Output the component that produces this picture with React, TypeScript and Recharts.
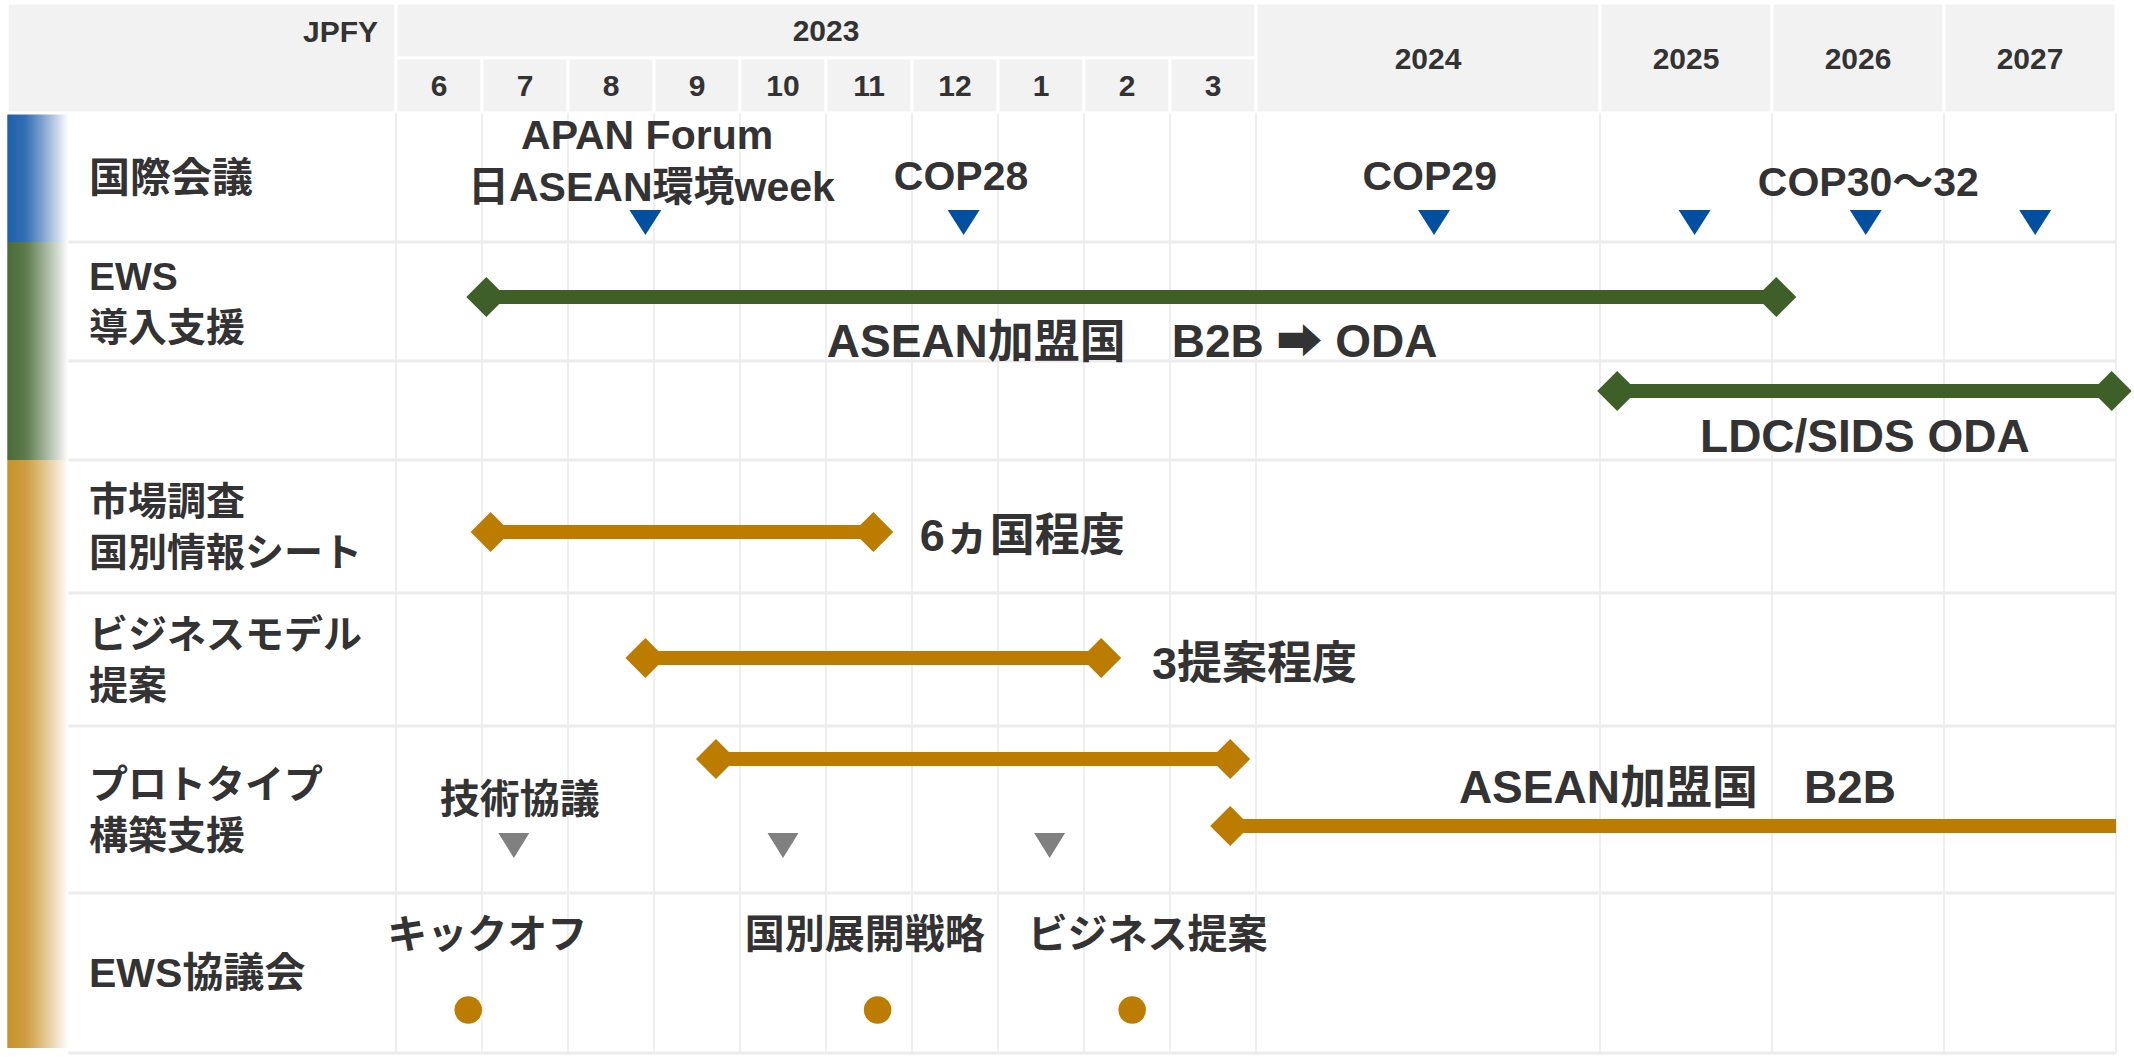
import React from "react";
import {
  ComposedChart,
  Line,
  Scatter,
  XAxis,
  YAxis,
  ReferenceArea,
  ReferenceLine,
} from "recharts";

const FONT = "'Liberation Sans', Arial, 'Noto Sans CJK JP', 'DejaVu Sans', sans-serif";
const INK = "#333333";
const HEADER_BG = "#f2f2f2";
const GRID = "#efefef";

const COLOURS: Record<string, string> = {
  intl: "#00509f",
  ews: "#3e5f27",
  biz: "#bc7c00",
  grey: "#808080",
};
const BAR_COLOURS: Record<string, string> = {
  intl: "#1d5fab",
  ews: "#4a6c38",
  biz: "#c8922a",
};

// x: months counted from June 2023 (JPFY2023 = 0..10), then fiscal years
const MONTH_LABELS = ["6", "7", "8", "9", "10", "11", "12", "1", "2", "3"];
const FIRST_YEAR = "2023";
const YEAR_LABELS = ["2024", "2025", "2026", "2027"];
const YEAR_EDGES = [10, 14, 16, 18, 20];

// y: lanes, header on top
const HEADER_SPLIT = 5.5;
const ROW_EDGES = [11, 23.9, 35.8, 45.7, 59, 72.3, 89, 105];
const ROW_LABELS = [
  ["国際会議"],
  ["EWS", "導入支援"],
  [],
  ["市場調査", "国別情報シート"],
  ["ビジネスモデル", "提案"],
  ["プロトタイプ", "構築支援"],
  ["EWS協議会"],
];
const ROW_GROUPS = ["intl", "ews", "ews", "biz", "biz", "biz", "biz"];

// left edge of the header / colour strip, and start of the label column (x units)
const LEFT_EDGE = -4.52;
const STRIP_END = -3.81;

// 国際会議 milestones
const INTL_MARKS = [
  { x: 2.9, y: 21.95 },
  { x: 6.6, y: 21.95 },
  { x: 12.07, y: 21.95 },
  { x: 15.1, y: 21.95 },
  { x: 17.09, y: 21.95 },
  { x: 19.06, y: 21.95 },
];
const INTL_LABELS = [
  { x: 2.92, y: 13.2, text: "APAN Forum" },
  { x: 2.97, y: 18.4, text: "日ASEAN環境week" },
  { x: 6.57, y: 17.3, text: "COP28" },
  { x: 12.02, y: 17.3, text: "COP29" },
  { x: 17.12, y: 17.9, text: "COP30～32" },
];

// Activity spans
const SPANS = [
  { group: "ews", lane: 29.4, start: 1.05, end: 16.05, open: false },
  { group: "ews", lane: 38.8, start: 14.2, end: 19.95, open: false },
  { group: "biz", lane: 52.9, start: 1.1, end: 5.55, open: false },
  { group: "biz", lane: 65.5, start: 2.9, end: 8.2, open: false },
  { group: "biz", lane: 75.6, start: 3.72, end: 9.7, open: false },
  { group: "biz", lane: 82.3, start: 9.7, end: 20, open: true },
];
const SPAN_LABELS = [
  { x: 8.56, y: 33.75, text: "ASEAN加盟国　B2B ➡ ODA" },
  { x: 17.08, y: 43.3, text: "LDC/SIDS ODA" },
  { x: 14.9, y: 78.4, text: "ASEAN加盟国　B2B" },
];
const NOTE_LABELS = [
  { x: 6.09, y: 53.2, text: "6ヵ国程度" },
  { x: 8.79, y: 66.0, text: "3提案程度" },
];

// プロトタイプ 技術協議 and EWS協議会 meetings
const TECH_MEETINGS = [
  { x: 1.37, y: 84.25 },
  { x: 4.5, y: 84.25 },
  { x: 7.6, y: 84.25 },
];
const COUNCIL_MEETINGS = [
  { x: 0.84, y: 100.7 },
  { x: 5.6, y: 100.7 },
  { x: 8.56, y: 100.7 },
];
const EVENT_LABELS = [
  { x: 1.44, y: 79.6, text: "技術協議" },
  { x: 1.06, y: 93.1, text: "キックオフ" },
  { x: 5.45, y: 93.1, text: "国別展開戦略" },
  { x: 8.74, y: 93.1, text: "ビジネス提案" },
];

const ROW_TICKS = ROW_LABELS.map((_, i) => (ROW_EDGES[i] + ROW_EDGES[i + 1]) / 2);

const STRIPS = ["intl", "ews", "biz"].map((g) => {
  const idx = ROW_GROUPS.map((r, i) => (r === g ? i : -1)).filter((i) => i >= 0);
  return { group: g, y1: ROW_EDGES[idx[0]], y2: ROW_EDGES[idx[idx.length - 1] + 1] - (g === "biz" ? 0.5 : 0) };
});

const headerLabel = (value: string, position: any = "center", offset = 5) => ({
  value,
  position,
  offset,
  fill: INK,
  fontSize: 30,
  fontWeight: 700,
  fontFamily: FONT,
});

function RowLabel(props: any) {
  const { y, payload } = props;
  const idx = ROW_TICKS.indexOf(payload.value);
  const lines = ROW_LABELS[idx] ?? [];
  const size = lines.length > 1 ? 39 : 41;
  return (
    <g>
      {lines.map((t, i) => (
        <text
          key={t}
          x={89}
          y={y + (i - (lines.length - 1) / 2) * 51}
          dominantBaseline="central"
          fill={INK}
          fontSize={size}
          fontWeight={700}
          fontFamily={FONT}
        >
          {t}
        </text>
      ))}
    </g>
  );
}

const textShape = (size: number, anchor: "middle" | "start") => (p: any) => (
  <text
    x={p.cx}
    y={p.cy}
    textAnchor={anchor}
    dominantBaseline="central"
    fill={INK}
    fontSize={size}
    fontWeight={700}
    fontFamily={FONT}
  >
    {p.payload.text}
  </text>
);

const triangle = (fill: string, w: number, h: number) => (p: any) => (
  <polygon
    points={`${p.cx - w / 2},${p.cy - h / 2} ${p.cx + w / 2},${p.cy - h / 2} ${p.cx},${p.cy + h / 2}`}
    fill={fill}
  />
);

const diamond = (fill: string, open: boolean) => (p: any) => {
  if (open && p.index > 0) return <g key={`d-${p.index}`} />;
  return (
    <polygon
      key={`d-${p.index}`}
      points={`${p.cx - 20},${p.cy} ${p.cx},${p.cy - 20} ${p.cx + 20},${p.cy} ${p.cx},${p.cy + 20}`}
      fill={fill}
    />
  );
};

const stripShape = (group: string) => (p: any) => (
  <g>
    <defs>
      <linearGradient id={`strip-${group}`} x1="0" y1="0" x2="1" y2="0">
        <stop offset="0%" stopColor={BAR_COLOURS[group]} />
        <stop offset="30%" stopColor={BAR_COLOURS[group]} stopOpacity={0.9} />
        <stop offset="100%" stopColor="#ffffff" stopOpacity={1} />
      </linearGradient>
    </defs>
    <rect x={p.x} y={p.y} width={p.width} height={p.height} fill={`url(#strip-${group})`} />
  </g>
);

export default function App() {
  const monthEdges = MONTH_LABELS.map((_, i) => i);
  const verticals = [...monthEdges.slice(1), ...YEAR_EDGES];

  return (
    <div style={{ position: "absolute", left: 0, top: 0, width: 2134, height: 1057, background: "#fff" }}>
      <ComposedChart width={2134} height={1057} margin={{ top: 3, right: 18, bottom: 4, left: 0 }}>
        <XAxis type="number" dataKey="x" domain={[0, 20]} hide />
        <YAxis
          type="number"
          dataKey="y"
          domain={[0, 105]}
          reversed
          width={396}
          ticks={ROW_TICKS}
          interval={0}
          axisLine={false}
          tickLine={false}
          tick={(p: any) => <RowLabel {...p} />}
        />

        {/* body grid */}
        {verticals.map((v) => (
          <ReferenceLine
            key={`v-${v}`}
            segment={[{ x: v, y: ROW_EDGES[0] }, { x: v, y: ROW_EDGES[ROW_EDGES.length - 1] }]}
            stroke={GRID}
            strokeWidth={2}
            ifOverflow="visible"
          />
        ))}
        <ReferenceLine
          segment={[{ x: 0, y: ROW_EDGES[0] }, { x: 0, y: ROW_EDGES[ROW_EDGES.length - 1] }]}
          stroke="#dddddd"
          strokeWidth={1}
          ifOverflow="visible"
        />
        {ROW_EDGES.slice(1).map((e) => (
          <ReferenceLine
            key={`h-${e}`}
            segment={[{ x: STRIP_END, y: e }, { x: 20, y: e }]}
            stroke="#ececec"
            strokeWidth={3}
            ifOverflow="visible"
          />
        ))}

        {/* colour strips */}
        {STRIPS.map((s) => (
          <ReferenceArea
            key={`s-${s.group}`}
            x1={LEFT_EDGE}
            x2={STRIP_END}
            y1={s.y1}
            y2={s.y2}
            ifOverflow="visible"
            shape={stripShape(s.group)}
          />
        ))}

        {/* header */}
        <ReferenceArea
          x1={LEFT_EDGE}
          x2={0}
          y1={0}
          y2={ROW_EDGES[0]}
          fill={HEADER_BG}
          fillOpacity={1}
          stroke="#fff"
          strokeWidth={3}
          ifOverflow="visible"
          label={headerLabel("JPFY", "insideTopRight", 18)}
        />
        <ReferenceArea
          x1={0}
          x2={YEAR_EDGES[0]}
          y1={0}
          y2={HEADER_SPLIT}
          fill={HEADER_BG}
          fillOpacity={1}
          stroke="#fff"
          strokeWidth={3}
          ifOverflow="visible"
          label={headerLabel(FIRST_YEAR)}
        />
        {MONTH_LABELS.map((m, i) => (
          <ReferenceArea
            key={`m-${i}`}
            x1={i}
            x2={i + 1}
            y1={HEADER_SPLIT}
            y2={ROW_EDGES[0]}
            fill={HEADER_BG}
            fillOpacity={1}
            stroke="#fff"
            strokeWidth={3}
            ifOverflow="visible"
            label={headerLabel(m)}
          />
        ))}
        {YEAR_LABELS.map((y, i) => (
          <ReferenceArea
            key={`y-${y}`}
            x1={YEAR_EDGES[i]}
            x2={YEAR_EDGES[i + 1]}
            y1={0}
            y2={ROW_EDGES[0]}
            fill={HEADER_BG}
            fillOpacity={1}
            stroke="#fff"
            strokeWidth={3}
            ifOverflow="visible"
            label={headerLabel(y)}
          />
        ))}

        {/* spans */}
        {SPANS.map((s, i) => (
          <Line
            key={`span-${i}`}
            data={[
              { x: s.start, y: s.lane },
              { x: s.end, y: s.lane },
            ]}
            dataKey="y"
            type="linear"
            stroke={COLOURS[s.group]}
            strokeWidth={14}
            dot={diamond(COLOURS[s.group], s.open)}
            activeDot={false}
            isAnimationActive={false}
          />
        ))}

        {/* markers */}
        <Scatter data={INTL_MARKS} shape={triangle(COLOURS.intl, 32, 25)} isAnimationActive={false} />
        <Scatter data={TECH_MEETINGS} shape={triangle(COLOURS.grey, 31, 25)} isAnimationActive={false} />
        <Scatter
          data={COUNCIL_MEETINGS}
          shape={(p: any) => <circle cx={p.cx} cy={p.cy} r={13.8} fill={COLOURS.biz} />}
          isAnimationActive={false}
        />

        {/* texts */}
        <Scatter data={INTL_LABELS} shape={textShape(41, "middle")} isAnimationActive={false} />
        <Scatter data={SPAN_LABELS} shape={textShape(46, "middle")} isAnimationActive={false} />
        <Scatter data={NOTE_LABELS} shape={textShape(45, "start")} isAnimationActive={false} />
        <Scatter data={EVENT_LABELS} shape={textShape(40, "middle")} isAnimationActive={false} />
      </ComposedChart>
    </div>
  );
}
